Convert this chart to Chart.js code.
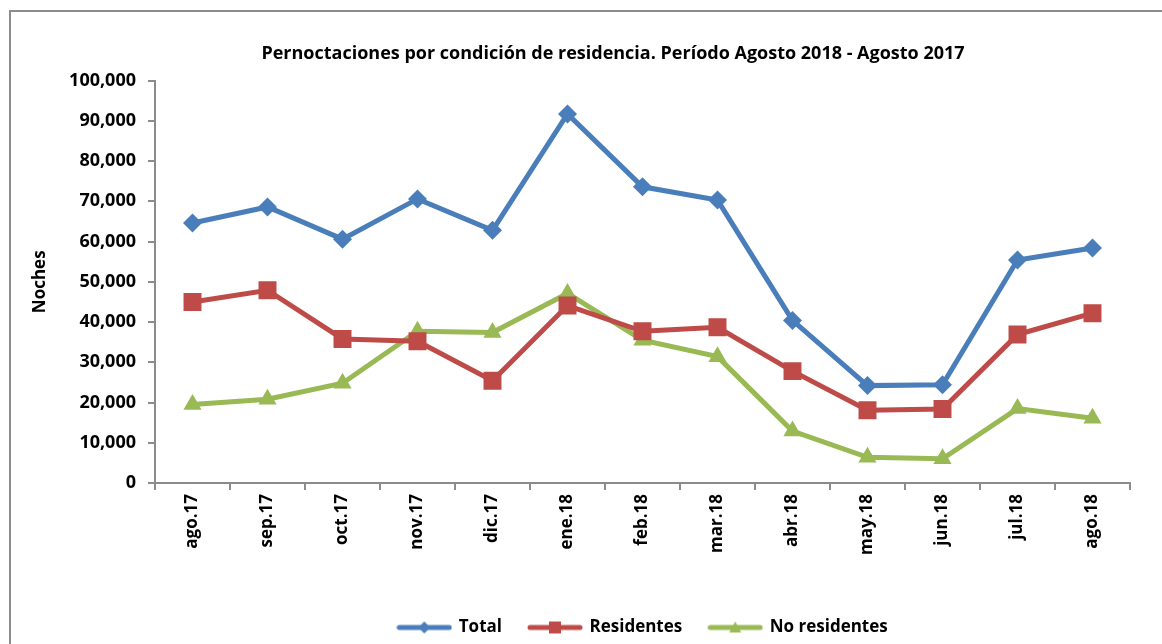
<!DOCTYPE html>
<html>
<head>
<meta charset="utf-8">
<script src="https://cdn.jsdelivr.net/npm/chart.js@4/dist/chart.umd.min.js"></script>
<style>
  html, body { margin: 0; padding: 0; background: #ffffff; }
  #wrap { position: relative; width: 1162px; height: 644px; }
</style>
</head>
<body>
<div id="wrap"><canvas id="c" width="1162" height="644"></canvas></div>
<script>
const categories = ['ago.17','sep.17','oct.17','nov.17','dic.17','ene.18','feb.18','mar.18','abr.18','may.18','jun.18','jul.18','ago.18'];
const total = [64600, 68600, 60600, 70600, 62800, 91700, 73600, 70300, 40400, 24200, 24400, 55400, 58400];
const residentes = [45000, 47900, 35800, 35200, 25400, 44100, 37700, 38700, 27800, 18100, 18400, 36900, 42200];
const noResidentes = [19500, 20800, 24800, 37700, 37400, 47100, 35500, 31400, 12900, 6400, 6000, 18500, 16100];
const yTicks = [0, 10000, 20000, 30000, 40000, 50000, 60000, 70000, 80000, 90000, 100000];
const titleText = 'Pernoctaciones por condición de residencia. Período Agosto 2018 - Agosto 2017';
const yTitle = 'Noches';

const BLUE = '#4A7EBB', RED = '#BE4B48', GREEN = '#98B954';
const FONT = "'Open Sans', 'DejaVu Sans', sans-serif";

function legendIcon(color, shape) {
  const cv = document.createElement('canvas');
  cv.width = 56; cv.height = 16;
  const g = cv.getContext('2d');
  g.strokeStyle = color; g.fillStyle = color;
  g.lineWidth = 5; g.lineCap = 'round';
  g.beginPath(); g.moveTo(3, 8); g.lineTo(53, 8); g.stroke();
  g.beginPath();
  if (shape === 'diamond') { g.moveTo(28, 2); g.lineTo(34, 8); g.lineTo(28, 14); g.lineTo(22, 8); }
  else if (shape === 'square') { g.rect(22, 2, 12, 12); }
  else { g.moveTo(28, 2); g.lineTo(34, 13); g.lineTo(22, 13); }
  g.closePath(); g.fill();
  return cv;
}
const icons = [legendIcon(BLUE,'diamond'), legendIcon(RED,'square'), legendIcon(GREEN,'triangle')];

const framePlugin = {
  id: 'frame',
  beforeDraw(chart) {
    const ctx = chart.ctx;
    ctx.save();
    ctx.strokeStyle = '#8c8c8c';
    ctx.lineWidth = 2;
    ctx.beginPath();
    ctx.moveTo(10, 644); ctx.lineTo(10, 11); ctx.lineTo(1162, 11);
    ctx.stroke();
    ctx.restore();
  },
  afterLayout(chart) {
    const lg = chart.legend;
    if (lg) { lg.left += 78; lg.right += 78; lg.top += 2; lg.bottom += 2; }
    const tb = chart.titleBlock;
    if (tb) { tb.left += 48; tb.right += 48; }
  }
};

new Chart(document.getElementById('c'), {
  type: 'line',
  data: {
    labels: categories,
    datasets: [
      { label: 'Total', data: total, borderColor: BLUE, backgroundColor: BLUE, borderWidth: 5,
        pointStyle: 'rectRot', pointRadius: 9.5, pointBorderWidth: 0, pointBackgroundColor: BLUE, tension: 0 },
      { label: 'Residentes', data: residentes, borderColor: RED, backgroundColor: RED, borderWidth: 5,
        pointStyle: 'rect', pointRadius: 12.7, pointBorderWidth: 0, pointBackgroundColor: RED, tension: 0 },
      { label: 'No residentes', data: noResidentes, borderColor: GREEN, backgroundColor: GREEN, borderWidth: 5,
        pointStyle: 'triangle', pointRadius: 10.5, pointBorderWidth: 0, pointBackgroundColor: GREEN, tension: 0 }
    ]
  },
  options: {
    responsive: false,
    animation: false,
    devicePixelRatio: 1,
    layout: { padding: { top: 0, left: 0, right: 32, bottom: 0 } },
    plugins: {
      title: {
        display: true, text: titleText, color: '#000',
        font: { family: FONT, size: 18, weight: 'bold', lineHeight: 1.2 },
        padding: { top: 43, bottom: 16 }
      },
      legend: {
        position: 'bottom',
        labels: {
          color: '#000',
          font: { family: FONT, size: 17, weight: 'bold' },
          usePointStyle: true,
          pointStyleWidth: 52,
          padding: 27,
          generateLabels(chart) {
            return chart.data.datasets.map((ds, i) => ({
              text: ds.label, pointStyle: icons[i], fillStyle: ds.borderColor,
              strokeStyle: ds.borderColor, lineWidth: 0, hidden: false, datasetIndex: i, fontColor: '#000'
            }));
          }
        }
      },
      tooltip: { enabled: false }
    },
    scales: {
      x: {
        type: 'category',
        offset: true,
        grid: { display: true, offset: true, drawOnChartArea: false, color: '#8c8c8c', tickLength: 7, lineWidth: 2 },
        border: { display: true, color: '#8c8c8c', width: 2 },
        ticks: { color: '#000', font: { family: FONT, size: 17, weight: 'bold' }, maxRotation: 90, minRotation: 90, padding: 4, autoSkip: false },
        afterFit(scale) { scale.height = 107; }
      },
      y: {
        min: 0, max: 100000,
        afterBuildTicks(scale) { scale.ticks = yTicks.map(v => ({ value: v })); },
        grid: { display: true, drawOnChartArea: false, color: '#8c8c8c', tickLength: 7, lineWidth: 2 },
        border: { display: true, color: '#8c8c8c', width: 2 },
        ticks: {
          color: '#000', padding: 12,
          font: { family: FONT, size: 18, weight: 'bold' },
          callback: v => v.toLocaleString('en-US')
        },
        title: { display: true, text: yTitle, color: '#000', font: { family: FONT, size: 17, weight: 'bold' }, padding: { top: 30, bottom: 0 } },
        afterFit(scale) { scale.width = 155; }
      }
    }
  },
  plugins: [framePlugin]
});
</script>
</body>
</html>
